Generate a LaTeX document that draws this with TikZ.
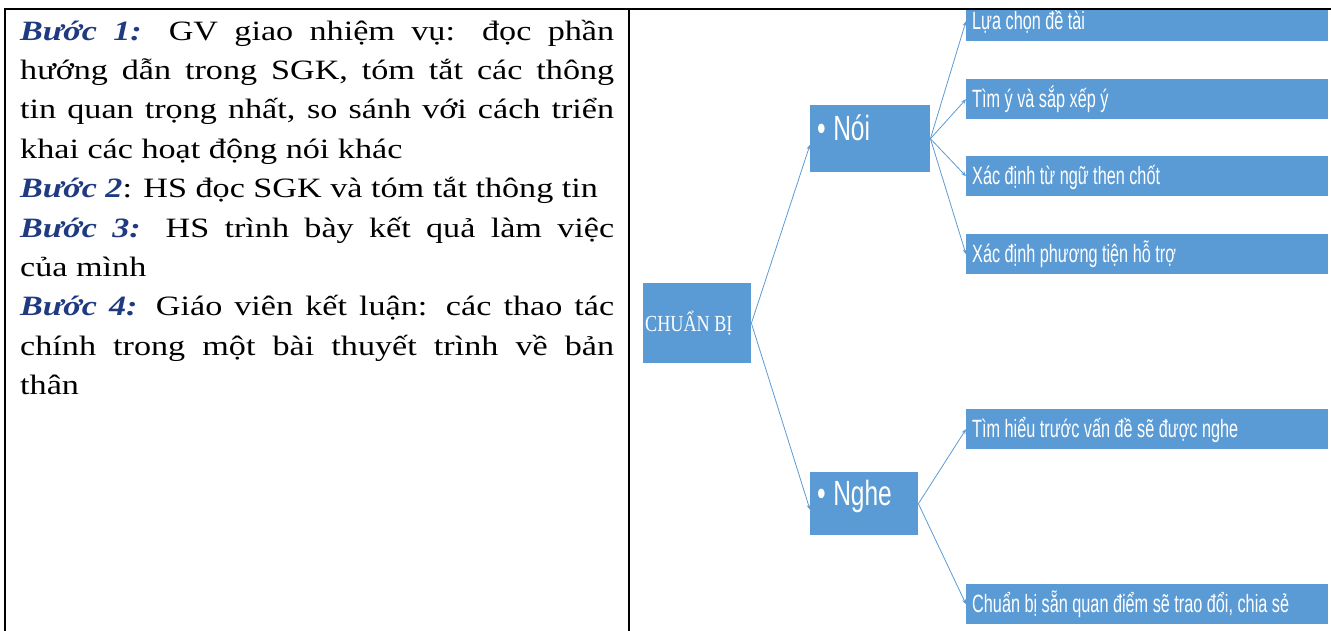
\documentclass[tikz,border=0pt]{standalone}
\usepackage{fontspec}
\setmainfont{Liberation Serif}
\newfontfamily\leftfont[FakeStretch=1.22]{Liberation Serif}
\newfontfamily\narrowsans[FakeStretch=0.65]{Liberation Sans}
\newfontfamily\midsans[FakeStretch=0.70]{Liberation Sans}
\newfontfamily\cbfont[FakeStretch=0.79]{Liberation Serif}
\usetikzlibrary{arrows.meta}
\definecolor{boxblue}{HTML}{5B9BD5}
\definecolor{navy}{HTML}{1F3A80}
\newcommand{\buoc}[1]{\textcolor{navy}{\textbf{\textit{#1}}}}
\hyphenpenalty=10000
\exhyphenpenalty=10000
\tolerance=9999
\begin{document}
\begin{tikzpicture}[x=1pt,y=-1pt,
  bx/.style={fill=boxblue, draw=none, inner ysep=0pt, anchor=north west, align=left, text=white},
  leaf/.style={bx, minimum width=362pt, minimum height=40pt, inner xsep=6pt, text width=350pt,
    text height=28pt, text depth=12pt, font=\narrowsans\fontsize{25}{28}\selectfont,
    execute at begin node={\spaceskip=4.5pt\relax}},
  mid/.style={bx, inner xsep=7pt, font=\midsans\fontsize{35}{38}\selectfont,
    execute at begin node={\spaceskip=7.5pt\relax}},
  conn/.style={draw=boxblue, line width=0.8pt, -{Stealth[length=5pt,width=4pt]}},
  rule/.style={draw=black, line width=2pt}]
\useasboundingbox (0,0) rectangle (1331,631);

% left cell text
\node[anchor=north west, inner sep=0pt, text width=594pt, align=justify,
  font=\leftfont\fontsize{28}{39.4}\selectfont] (txt) at (20,12.4)
 {\rule{0pt}{27.6pt}\buoc{Bước 1:} GV giao nhiệm vụ: đọc phần\linebreak
  hướng dẫn trong SGK, tóm tắt các thông\linebreak
  tin quan trọng nhất, so sánh với cách triển\linebreak
  khai các hoạt động nói khác\\
  \buoc{Bước 2}: HS đọc SGK và tóm tắt thông tin\\
  \buoc{Bước 3:} HS trình bày kết quả làm việc\linebreak
  của mình\\
  \buoc{Bước 4:} Giáo viên kết luận: các thao tác\linebreak
  chính trong một bài thuyết trình về bản\linebreak
  thân};

% right cell diagram
\begin{scope}
\clip (630,9) rectangle (1331,631);
\node[bx, minimum width=108pt, minimum height=80pt, inner xsep=2pt, text width=104pt,
  text height=48pt, text depth=32pt, font=\cbfont\fontsize{23}{26}\selectfont,
  execute at begin node={\spaceskip=4.5pt\relax}] (cb) at (643,283) {CHUẨN BỊ};
\node[mid, minimum width=120pt, minimum height=67pt, text width=106pt,
  text height=35pt, text depth=32pt] (noi) at (810,105) {• Nói};
\node[mid, minimum width=108pt, minimum height=63pt, text width=94pt,
  text height=33pt, text depth=30pt] (nghe) at (810,472) {• Nghe};

\node[leaf] (l1) at (966,1) {Lựa chọn đề tài};
\node[leaf] (l2) at (966,79) {Tìm ý và sắp xếp ý};
\node[leaf] (l3) at (966,156) {Xác định từ ngữ then chốt};
\node[leaf] (l4) at (966,234) {Xác định phương tiện hỗ trợ};
\node[leaf] (l5) at (966,409) {Tìm hiểu trước vấn đề sẽ được nghe};
\node[leaf] (l6) at (966,584) {Chuẩn bị sẵn quan điểm sẽ trao đổi, chia sẻ};

\draw[conn] (cb.east) -- ([yshift=-6pt]noi.west);
\draw[conn] (cb.east) -- ([yshift=-6pt]nghe.west);
\foreach \t in {l1,l2,l3,l4}{\draw[conn] (noi.east) -- (\t.west);}
\foreach \t in {l5,l6}{\draw[conn] (nghe.east) -- (\t.west);}
\end{scope}

% table rules
\draw[rule] (5,9) -- (1331,9);
\draw[rule] (5,8) -- (5,631);
\draw[rule] (629,8) -- (629,631);
\end{tikzpicture}
\end{document}
